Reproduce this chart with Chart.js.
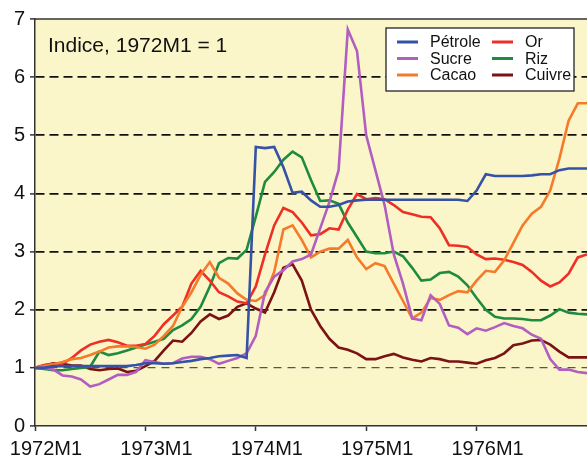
<!DOCTYPE html>
<html>
<head>
<meta charset="utf-8">
<script src="https://cdn.jsdelivr.net/npm/chart.js@4.4.1/dist/chart.umd.min.js"></script>
<style>
  html, body { margin: 0; padding: 0; background: #ffffff; }
  #wrap { width: 587px; height: 457px; position: relative; }
</style>
</head>
<body>
<div id="wrap"><canvas id="c" width="587" height="457"></canvas></div>
<script>
// ---- Data (monthly index, 1972M1 = 1) ----
const months = [
  '1972M1','1972M2','1972M3','1972M4','1972M5','1972M6','1972M7','1972M8','1972M9','1972M10','1972M11','1972M12',
  '1973M1','1973M2','1973M3','1973M4','1973M5','1973M6','1973M7','1973M8','1973M9','1973M10','1973M11','1973M12',
  '1974M1','1974M2','1974M3','1974M4','1974M5','1974M6','1974M7','1974M8','1974M9','1974M10','1974M11','1974M12',
  '1975M1','1975M2','1975M3','1975M4','1975M5','1975M6','1975M7','1975M8','1975M9','1975M10','1975M11','1975M12',
  '1976M1','1976M2','1976M3','1976M4','1976M5','1976M6','1976M7','1976M8','1976M9','1976M10','1976M11','1976M12',
  '1977M1'
];
const tickLabels = ['1972M1','1973M1','1974M1','1975M1','1976M1'];
const yTicks = [0,1,2,3,4,5,6,7];

const petrole = [1.00,1.00,1.03,1.03,1.03,1.03,1.03,1.03,1.03,1.03,1.03,1.05,
                 1.08,1.08,1.07,1.08,1.10,1.12,1.15,1.17,1.20,1.21,1.22,1.17,
                 4.80,4.78,4.80,4.45,4.01,4.03,3.88,3.77,3.77,3.80,3.86,3.88,
                 3.89,3.89,3.89,3.89,3.89,3.89,3.89,3.89,3.89,3.89,3.89,3.87,
                 4.05,4.33,4.30,4.30,4.30,4.30,4.31,4.33,4.33,4.40,4.43,4.43,
                 4.43];
const sucre   = [1.00,1.00,0.97,0.87,0.85,0.80,0.68,0.72,0.80,0.88,0.88,0.93,
                 1.13,1.10,1.07,1.08,1.16,1.19,1.19,1.15,1.07,1.12,1.17,1.25,
                 1.55,2.30,2.57,2.68,2.83,2.87,2.95,3.40,3.85,4.40,6.82,6.45,
                 5.00,4.40,3.80,2.95,2.45,1.85,1.82,2.25,2.10,1.73,1.69,1.58,
                 1.68,1.64,1.70,1.77,1.72,1.68,1.57,1.50,1.15,0.97,0.97,0.93,
                 0.91];
const cacao   = [1.00,1.03,1.06,1.10,1.15,1.17,1.22,1.28,1.35,1.37,1.37,1.36,
                 1.33,1.40,1.55,1.72,2.05,2.30,2.60,2.82,2.55,2.45,2.28,2.17,
                 2.15,2.25,2.65,3.38,3.45,3.20,2.90,3.00,3.05,3.05,3.20,2.90,
                 2.70,2.80,2.75,2.45,2.15,1.85,1.95,2.20,2.17,2.25,2.32,2.30,
                 2.50,2.67,2.65,2.85,3.15,3.45,3.65,3.77,4.05,4.60,5.25,5.55,
                 5.55];
const or      = [1.00,1.05,1.07,1.07,1.17,1.30,1.40,1.45,1.48,1.44,1.38,1.38,
                 1.41,1.55,1.75,1.90,2.05,2.45,2.67,2.50,2.30,2.23,2.14,2.11,
                 2.40,2.95,3.45,3.75,3.68,3.50,3.28,3.30,3.40,3.38,3.72,3.99,
                 3.90,3.92,3.90,3.80,3.68,3.64,3.60,3.59,3.40,3.11,3.10,3.08,
                 2.95,2.87,2.88,2.86,2.82,2.77,2.65,2.50,2.40,2.47,2.62,2.90,
                 2.95];
const riz     = [1.00,0.98,0.96,0.96,0.98,1.00,1.02,1.28,1.22,1.25,1.30,1.35,
                 1.40,1.45,1.50,1.65,1.73,1.84,2.05,2.40,2.80,2.89,2.88,3.03,
                 3.60,4.20,4.37,4.58,4.72,4.62,4.23,3.87,3.88,3.82,3.50,3.25,
                 3.00,2.97,2.97,3.00,2.92,2.72,2.50,2.52,2.63,2.65,2.57,2.42,
                 2.20,2.00,1.88,1.85,1.85,1.84,1.82,1.82,1.90,2.01,1.95,1.93,
                 1.92];
const cuivre  = [1.00,1.04,1.08,1.07,1.04,1.04,0.98,0.96,0.98,0.99,0.93,0.95,
                 1.03,1.12,1.30,1.47,1.45,1.60,1.80,1.92,1.84,1.90,2.05,2.11,
                 2.02,1.95,2.30,2.72,2.78,2.50,2.00,1.72,1.50,1.35,1.31,1.25,
                 1.15,1.15,1.20,1.24,1.18,1.14,1.11,1.17,1.15,1.11,1.11,1.09,
                 1.07,1.13,1.17,1.25,1.39,1.42,1.47,1.48,1.40,1.28,1.18,1.18,
                 1.18];

const seriesNames = ['Pétrole','Sucre','Cacao','Or','Riz','Cuivre'];
const seriesData  = [petrole, sucre, cacao, or, riz, cuivre];
const seriesColors = ['#3552A6','#B25EC0','#F57A2A','#EE2F25','#1E8B3E','#7B1214'];
const titleText = 'Indice, 1972M1 = 1';

const FONT = '"Liberation Sans", Arial, Helvetica, sans-serif';

const decorPlugin = {
  id: 'decor',
  beforeDraw(chart) {
    const {ctx, chartArea: a} = chart;
    ctx.save();
    ctx.fillStyle = '#FAF6C9';
    ctx.fillRect(a.left, a.top, a.right - a.left, a.bottom - a.top);
    ctx.restore();
  },
  afterDraw(chart) {
    const {ctx, chartArea: a} = chart;
    ctx.save();
    // top frame line
    ctx.strokeStyle = '#333';
    ctx.lineWidth = 1.5;
    ctx.beginPath();
    ctx.moveTo(a.left, a.top);
    ctx.lineTo(a.right, a.top);
    ctx.stroke();
    // title inside plot
    ctx.fillStyle = '#111';
    ctx.font = '21px ' + FONT;
    ctx.textBaseline = 'alphabetic';
    ctx.textAlign = 'left';
    ctx.fillText(titleText, a.left + 13, a.top + 33);
    // legend box
    const bx = 386, by = 28, bw = 188, bh = 63;
    ctx.fillStyle = '#ffffff';
    ctx.fillRect(bx, by, bw, bh);
    ctx.strokeStyle = '#111';
    ctx.lineWidth = 1.2;
    ctx.strokeRect(bx, by, bw, bh);
    ctx.font = '16px ' + FONT;
    ctx.textBaseline = 'middle';
    const colX = [397, 492];
    const rowY = [42, 58.5, 75];
    chart.data.datasets.forEach((ds, i) => {
      const col = Math.floor(i / 3), row = i % 3;
      const x = colX[col], y = rowY[row];
      ctx.strokeStyle = ds.borderColor;
      ctx.lineWidth = 3;
      ctx.beginPath();
      ctx.moveTo(x, y);
      ctx.lineTo(x + 21, y);
      ctx.stroke();
      ctx.fillStyle = '#111';
      ctx.fillText(ds.label, x + 33, y + 1);
    });
    ctx.restore();
  }
};

new Chart(document.getElementById('c'), {
  type: 'line',
  data: {
    labels: months,
    datasets: seriesNames.map((name, i) => ({
      label: name,
      data: seriesData[i],
      borderColor: seriesColors[i],
      backgroundColor: seriesColors[i],
      borderWidth: 2.6,
      pointRadius: 0,
      tension: 0,
      fill: false
    }))
  },
  options: {
    responsive: false,
    animation: false,
    devicePixelRatio: 1,
    layout: { padding: { top: 19, right: 0, left: 0, bottom: 0 } },
    plugins: {
      legend: { display: false },
      title: { display: false },
      tooltip: { enabled: false }
    },
    scales: {
      x: {
        type: 'category',
        offset: false,
        afterBuildTicks(scale) {
          scale.ticks = scale.ticks.filter(t => t.value % 12 === 0 && t.value < 60);
        },
        afterFit(scale) {
          scale.height = 31;
          scale.paddingLeft = 0;
          scale.paddingRight = 0;
        },
        grid: {
          display: true,
          drawOnChartArea: false,
          drawTicks: true,
          tickLength: 5,
          tickColor: '#333',
          tickWidth: 1.5
        },
        border: { display: true, color: '#333', width: 1.5 },
        ticks: {
          autoSkip: false,
          maxRotation: 0,
          minRotation: 0,
          labelOffset: 11,
          padding: 6,
          color: '#111',
          font: { family: FONT, size: 20 },
          callback: (v, i) => tickLabels[i]
        }
      },
      y: {
        min: 0,
        max: 7,
        afterBuildTicks(scale) {
          scale.ticks = yTicks.map(v => ({ value: v }));
        },
        afterFit(scale) { scale.width = 35; },
        grid: {
          drawTicks: true,
          tickLength: 5,
          tickColor: '#333',
          tickWidth: 1.5,
          color: (c) => {
            const v = c.tick ? c.tick.value : null;
            if (v === 0 || v === 7) return 'rgba(0,0,0,0)';
            if (v === 1) return '#555';
            return '#111';
          },
          lineWidth: (c) => (c.tick && c.tick.value === 1) ? 1.3 : 1.8
        },
        border: {
          display: true,
          color: '#333',
          width: 1.5,
          dash: (c) => (c.tick && c.tick.value === 1) ? [8, 6] : [9, 5]
        },
        ticks: {
          padding: 5,
          color: '#111',
          font: { family: FONT, size: 20 }
        }
      }
    }
  },
  plugins: [decorPlugin]
});
</script>
</body>
</html>
